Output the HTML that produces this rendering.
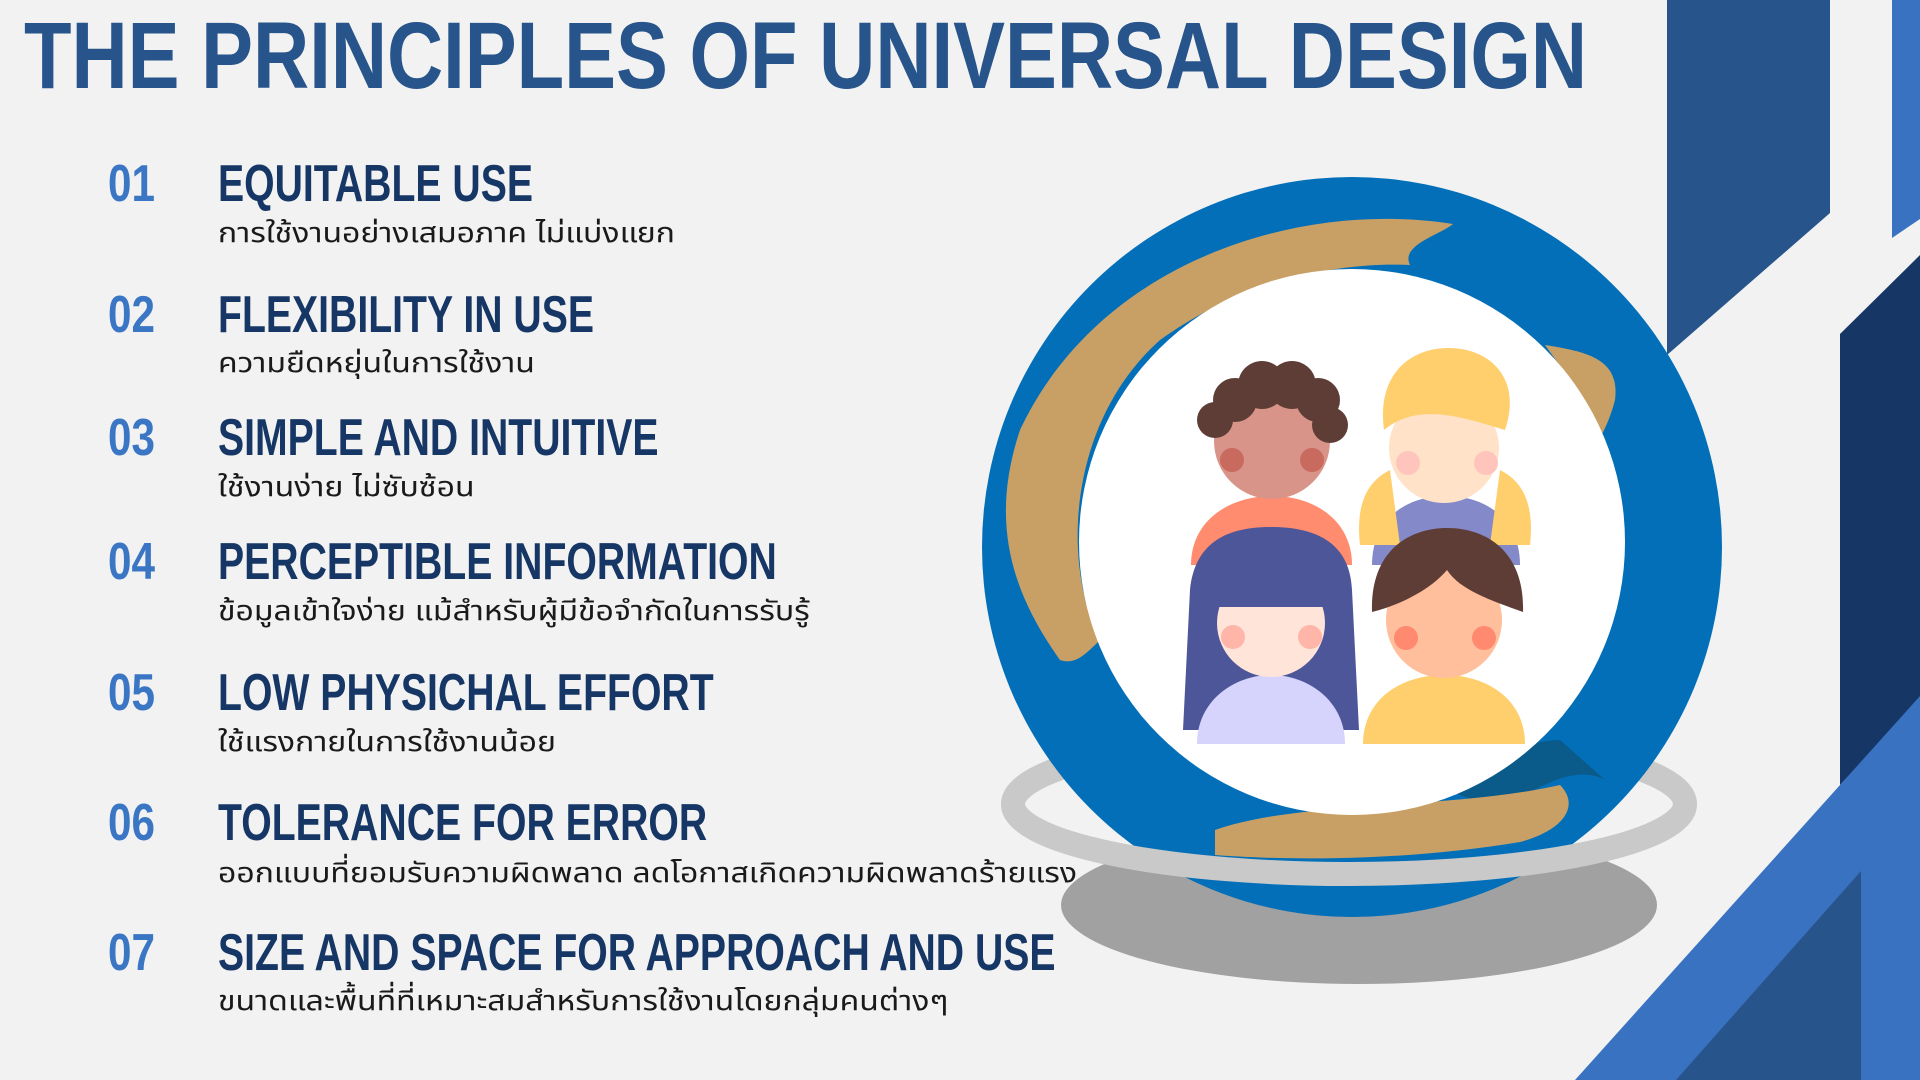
<!DOCTYPE html>
<html><head><meta charset="utf-8">
<style>
html,body{margin:0;padding:0}
body{width:1920px;height:1080px;overflow:hidden;background:#f2f2f2;position:relative;font-family:"Liberation Sans",sans-serif}
.t{position:absolute;white-space:nowrap;transform-origin:0 0;margin:0}
#title{left:24px;top:9px;font-size:95px;line-height:95px;font-weight:bold;color:#27548a}
.num{font-size:52px;line-height:52px;font-weight:bold;color:#3b76c5;left:108px}
.head{font-size:52px;line-height:52px;font-weight:bold;color:#163766;left:218px}
.sub{font-size:28px;line-height:28px;color:#1a1a1a;left:218px;font-family:"Liberation Sans","Noto Sans Thai","DejaVu Sans","Noto Sans CJK SC",sans-serif}
svg{position:absolute;left:0;top:0}
</style></head>
<body>
<svg width="1920" height="1080">
  <polygon points="1667,0 1830,0 1830,213 1667,355" fill="#27548a"/>
  <polygon points="1892,0 1920,0 1920,219 1892,238" fill="#3a72c2"/>
  <polygon points="1840,334 1920,255 1920,700 1840,785" fill="#163766"/>
  <polygon points="1575,1080 1920,696 1920,1080" fill="#3a72c2"/>
  <polygon points="1676,1080 1861,871 1861,1080" fill="#27548a"/>
  <g>
    <ellipse cx="1359" cy="905" rx="298" ry="79" fill="#a0a1a0"/>
    <ellipse cx="1349" cy="804" rx="336" ry="70" fill="none" stroke="#c8c9c8" stroke-width="24"/>
    <circle cx="1352" cy="547" r="370" fill="#036fb8"/>
    <path d="M1453,224 C1300,200 1100,260 1020,430 C990,520 1010,590 1060,660 C1075,665 1085,655 1100,640 C1060,560 1070,420 1160,340 C1250,275 1350,262 1410,265 C1400,245 1440,235 1453,224 Z" fill="#c8a065"/>
    <path d="M1545,345 C1590,352 1620,360 1615,400 C1610,420 1600,440 1595,445 L1570,380 Z" fill="#c8a065"/>
    <path d="M1420,780 C1480,760 1530,740 1560,740 L1605,780 C1570,760 1520,800 1500,810 Z" fill="#0a5a8a"/>
    <path d="M1215,830 C1300,800 1450,810 1560,785 C1580,805 1565,830 1520,842 C1400,862 1280,860 1215,855 Z" fill="#c8a065"/>
    <path d="M1013,804 A336,70 0 0 0 1685,804" fill="none" stroke="#c8c9c8" stroke-width="24"/>
    <circle cx="1352" cy="542" r="273" fill="#ffffff"/>
  </g>
  <g>
    <path d="M1191,565 C1191,520 1230,496 1272,496 C1314,496 1352,520 1352,565 Z" fill="#ff8c6e"/>
    <circle cx="1272" cy="441" r="58" fill="#d89489"/>
    <circle cx="1235" cy="400" r="22" fill="#5e3d36"/><circle cx="1262" cy="385" r="24" fill="#5e3d36"/><circle cx="1292" cy="385" r="24" fill="#5e3d36"/><circle cx="1318" cy="400" r="22" fill="#5e3d36"/><circle cx="1215" cy="420" r="18" fill="#5e3d36"/><circle cx="1330" cy="425" r="18" fill="#5e3d36"/>
    <circle cx="1232" cy="460" r="12" fill="#c86a5e"/><circle cx="1312" cy="460" r="12" fill="#c86a5e"/>
    <path d="M1372,565 C1372,520 1405,496 1446,496 C1487,496 1520,520 1520,565 Z" fill="#8489c9"/>
    <path d="M1360,545 C1355,500 1370,480 1390,470 L1400,545 Z" fill="#ffcf6e"/>
    <path d="M1530,545 C1535,500 1520,480 1500,470 L1490,545 Z" fill="#ffcf6e"/>
    <circle cx="1444" cy="448" r="55" fill="#ffe2c8"/>
    <path d="M1384,430 C1376,370 1415,348 1448,348 C1492,348 1522,380 1505,430 C1470,420 1420,400 1384,430 Z" fill="#ffcf6e"/>
    <circle cx="1408" cy="463" r="12" fill="#ffc4bc"/><circle cx="1486" cy="463" r="12" fill="#ffc4bc"/>
    <path d="M1183,730 L1190,590 C1195,540 1230,527 1271,527 C1312,527 1350,540 1352,590 L1359,730 Z" fill="#4c5699"/>
    <path d="M1197,744 C1197,700 1235,675 1271,675 C1307,675 1345,700 1345,744 Z" fill="#d6d3fc"/>
    <circle cx="1271" cy="623" r="54" fill="#ffe4da"/>
    <path d="M1215,607 C1220,560 1250,550 1271,550 C1300,550 1325,565 1328,607 Z" fill="#4c5699"/>
    <circle cx="1233" cy="637" r="12" fill="#ffb5a8"/><circle cx="1310" cy="637" r="12" fill="#ffb5a8"/>
    <path d="M1363,744 C1363,700 1400,675 1444,675 C1488,675 1525,700 1525,744 Z" fill="#ffcf6e"/>
    <circle cx="1444" cy="620" r="58" fill="#ffbf9c"/>
    <path d="M1372,612 C1370,550 1410,528 1447,528 C1490,528 1525,555 1523,612 C1490,600 1460,590 1447,570 C1430,590 1400,605 1372,612 Z" fill="#5e3d36"/>
    <circle cx="1406" cy="638" r="12" fill="#ff8a70"/><circle cx="1484" cy="638" r="12" fill="#ff8a70"/>
  </g>
</svg>

<div class="t" id="title">THE PRINCIPLES OF UNIVERSAL DESIGN</div>

<div class="t num" style="top:158px">01</div>
<div class="t head" style="top:158px">EQUITABLE USE</div>
<div class="t sub" style="top:219px">การใช้งานอย่างเสมอภาค ไม่แบ่งแยก</div>

<div class="t num" style="top:289px">02</div>
<div class="t head" style="top:289px">FLEXIBILITY IN USE</div>
<div class="t sub" style="top:349px">ความยืดหยุ่นในการใช้งาน</div>

<div class="t num" style="top:412px">03</div>
<div class="t head" style="top:412px">SIMPLE AND INTUITIVE</div>
<div class="t sub" style="top:473px">ใช้งานง่าย ไม่ซับซ้อน</div>

<div class="t num" style="top:536px">04</div>
<div class="t head" style="top:536px">PERCEPTIBLE INFORMATION</div>
<div class="t sub" style="top:597px">ข้อมูลเข้าใจง่าย แม้สำหรับผู้มีข้อจำกัดในการรับรู้</div>

<div class="t num" style="top:667px">05</div>
<div class="t head" style="top:667px">LOW PHYSICHAL EFFORT</div>
<div class="t sub" style="top:728px">ใช้แรงกายในการใช้งานน้อย</div>

<div class="t num" style="top:797px">06</div>
<div class="t head" style="top:797px">TOLERANCE FOR ERROR</div>
<div class="t sub" style="top:859px">ออกแบบที่ยอมรับความผิดพลาด ลดโอกาสเกิดความผิดพลาดร้ายแรง</div>

<div class="t num" style="top:927px">07</div>
<div class="t head" style="top:927px">SIZE AND SPACE FOR APPROACH AND USE</div>
<div class="t sub" style="top:987px">ขนาดและพื้นที่ที่เหมาะสมสำหรับการใช้งานโดยกลุ่มคนต่างๆ</div>

<script>
function fit(sel, target){
  var els=document.querySelectorAll(sel);
  var w=els[0].getBoundingClientRect().width;
  var s=target/w;
  els.forEach(function(e){e.style.transform='scaleX('+s+')';});
}
fit('#title',1563);
fit('.head',315);
fit('.sub',457);
fit('.num',47);
</script>
</body></html>
